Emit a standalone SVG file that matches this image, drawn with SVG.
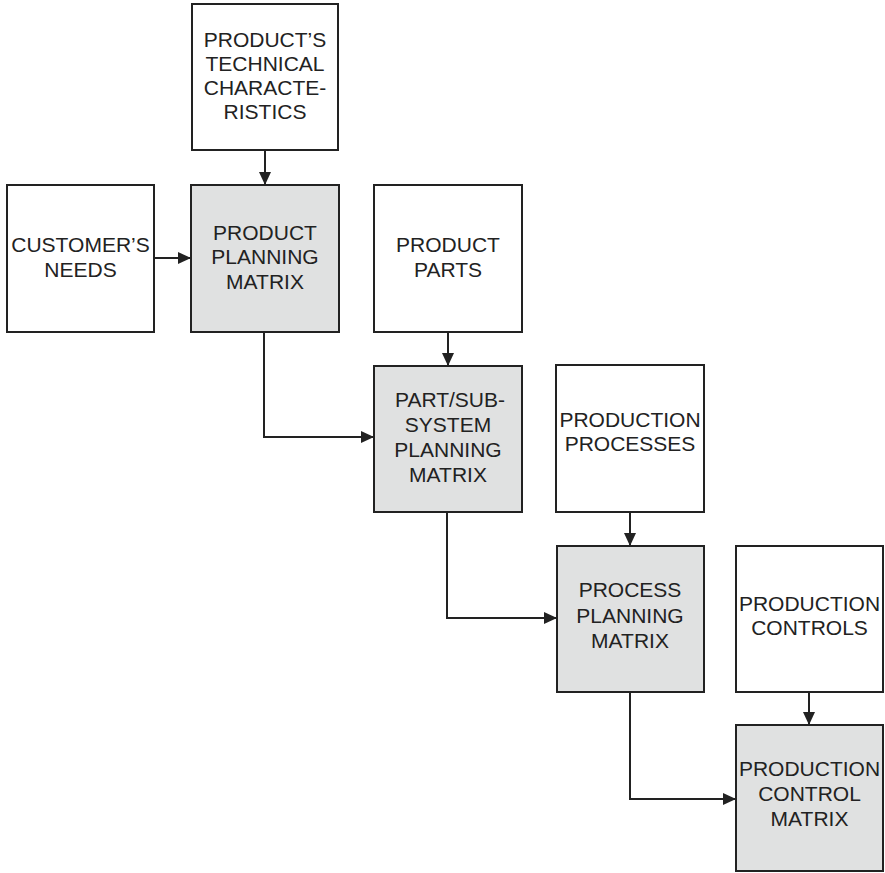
<svg xmlns="http://www.w3.org/2000/svg" width="885" height="873" viewBox="0 0 885 873">
  <style>
    .box { stroke: #222; stroke-width: 2; }
    .input { fill: #ffffff; }
    .matrix { fill: #e0e1e1; }
    .label { font-family: "Liberation Sans", Arial, sans-serif; font-size: 21px; fill: #222; text-anchor: middle; }
    .conn { fill: none; stroke: #222; stroke-width: 2; marker-end: url(#arrow); }
  </style>
  <defs>
    <marker id="arrow" markerUnits="userSpaceOnUse" markerWidth="13" markerHeight="12" refX="13" refY="6" orient="auto">
      <path d="M0,0 L13,6 L0,12 z" fill="#222"/>
    </marker>
  </defs>
  <rect width="885" height="873" fill="#ffffff"/>

  <g id="connectors">
    <line class="conn" x1="265" y1="150" x2="265" y2="185"/>
    <line class="conn" x1="154" y1="258" x2="191" y2="258"/>
    <path class="conn" d="M264 332 V437 H374"/>
    <line class="conn" x1="448" y1="332" x2="448" y2="366"/>
    <path class="conn" d="M447 512 V618 H557"/>
    <line class="conn" x1="630" y1="512" x2="630" y2="546"/>
    <path class="conn" d="M630 692 V799 H736"/>
    <line class="conn" x1="809" y1="692" x2="809" y2="725"/>
  </g>

  <g id="technical-characteristics">
    <rect class="box input" x="192" y="4" width="146" height="146"/>
    <text class="label" x="265" y="47">PRODUCT’S</text>
    <text class="label" x="265" y="71">TECHNICAL</text>
    <text class="label" x="265" y="95">CHARACTE-</text>
    <text class="label" x="265" y="119">RISTICS</text>
  </g>

  <g id="customer-needs">
    <rect class="box input" x="7" y="185" width="147" height="147"/>
    <text class="label" x="80.5" y="252">CUSTOMER’S</text>
    <text class="label" x="80.5" y="277">NEEDS</text>
  </g>

  <g id="product-planning-matrix">
    <rect class="box matrix" x="191" y="185" width="148" height="147"/>
    <text class="label" x="265" y="240">PRODUCT</text>
    <text class="label" x="265" y="264">PLANNING</text>
    <text class="label" x="265" y="289">MATRIX</text>
  </g>

  <g id="product-parts">
    <rect class="box input" x="374" y="185" width="148" height="147"/>
    <text class="label" x="448" y="252">PRODUCT</text>
    <text class="label" x="448" y="277">PARTS</text>
  </g>

  <g id="part-planning-matrix">
    <rect class="box matrix" x="374" y="366" width="148" height="146"/>
    <text class="label" x="450" y="407">PART/SUB-</text>
    <text class="label" x="448" y="432">SYSTEM</text>
    <text class="label" x="448" y="457">PLANNING</text>
    <text class="label" x="448" y="482">MATRIX</text>
  </g>

  <g id="production-processes">
    <rect class="box input" x="556" y="365" width="148" height="147"/>
    <text class="label" x="630" y="427">PRODUCTION</text>
    <text class="label" x="630" y="451">PROCESSES</text>
  </g>

  <g id="process-planning-matrix">
    <rect class="box matrix" x="557" y="546" width="147" height="146"/>
    <text class="label" x="630" y="597">PROCESS</text>
    <text class="label" x="630" y="623">PLANNING</text>
    <text class="label" x="630" y="648">MATRIX</text>
  </g>

  <g id="production-controls">
    <rect class="box input" x="736" y="546" width="147" height="146"/>
    <text class="label" x="809.5" y="611">PRODUCTION</text>
    <text class="label" x="809.5" y="635">CONTROLS</text>
  </g>

  <g id="production-control-matrix">
    <rect class="box matrix" x="736" y="725" width="147" height="146"/>
    <text class="label" x="809.5" y="776">PRODUCTION</text>
    <text class="label" x="809.5" y="801">CONTROL</text>
    <text class="label" x="809.5" y="826">MATRIX</text>
  </g>
</svg>
